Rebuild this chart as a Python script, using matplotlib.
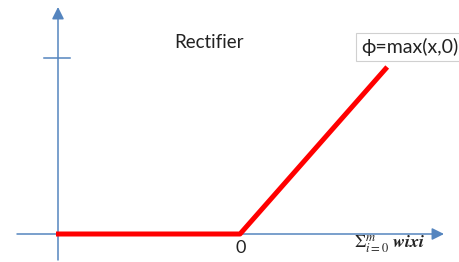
import matplotlib
matplotlib.use("Agg")
import matplotlib.pyplot as plt

# Data: rectifier phi = max(x, 0)
x_vals = [-5, 0, 4]
y_vals = [0, 0, 4]

title_text = "Rectifier"
func_label = "ϕ=max(x,0)"
origin_label = "0"
axis_label = r"$\Sigma_{i=0}^{m}\ \boldsymbol{wixi}$"

W, H = 459, 262
SX, SY = 36.8, 41.75   # pixels per data unit
X0, Y0 = 240, 234      # pixel position of data origin

def px(xp, yp):
    return (xp - X0) / SX, (Y0 - yp) / SY

plt.rcParams['mathtext.fontset'] = 'stix'

fig = plt.figure(figsize=(W / 100, H / 100), dpi=100)
ax = fig.add_axes([0, 0, 1, 1])
ax.set_xlim(-X0 / SX, (W - X0) / SX)
ax.set_ylim(-(H - Y0) / SY, Y0 / SY)
ax.axis('off')

axis_color = '#5585bf'

# horizontal axis
ax.annotate('', xy=px(444, 234), xytext=px(17, 234),
            arrowprops=dict(arrowstyle='-|>', color=axis_color, lw=1.1,
                            mutation_scale=18, shrinkA=0, shrinkB=0))
# vertical axis
ax.annotate('', xy=px(58, 7), xytext=px(58, 260),
            arrowprops=dict(arrowstyle='-|>', color=axis_color, lw=1.1,
                            mutation_scale=18, shrinkA=0, shrinkB=0))
# tick on vertical axis
ax.plot([px(44, 58)[0], px(70, 58)[0]], [px(44, 58)[1], px(70, 58)[1]],
        color=axis_color, lw=1.1)

# rectifier line
ax.plot(x_vals, y_vals, color='#ff0000', lw=3.6, solid_capstyle='butt',
        solid_joinstyle='round', zorder=5)

fam = ['Lato', 'DejaVu Sans']
ax.text(*px(209, 42), title_text, fontsize=13.5, family=fam,
        ha='center', va='center', color='#222222')
ax.text(*px(361, 47), func_label, fontsize=14, family=fam,
        ha='left', va='center', color='#222222',
        bbox=dict(boxstyle='square,pad=0.25', fc='white', ec='#d0d0d0', lw=0.8))
ax.text(*px(241, 248), origin_label, fontsize=13, family=fam,
        ha='center', va='center', color='#222222')
ax.text(*px(390, 244), axis_label, fontsize=13,
        ha='center', va='center', color='#222222')

fig.savefig('out.png', dpi=100)
